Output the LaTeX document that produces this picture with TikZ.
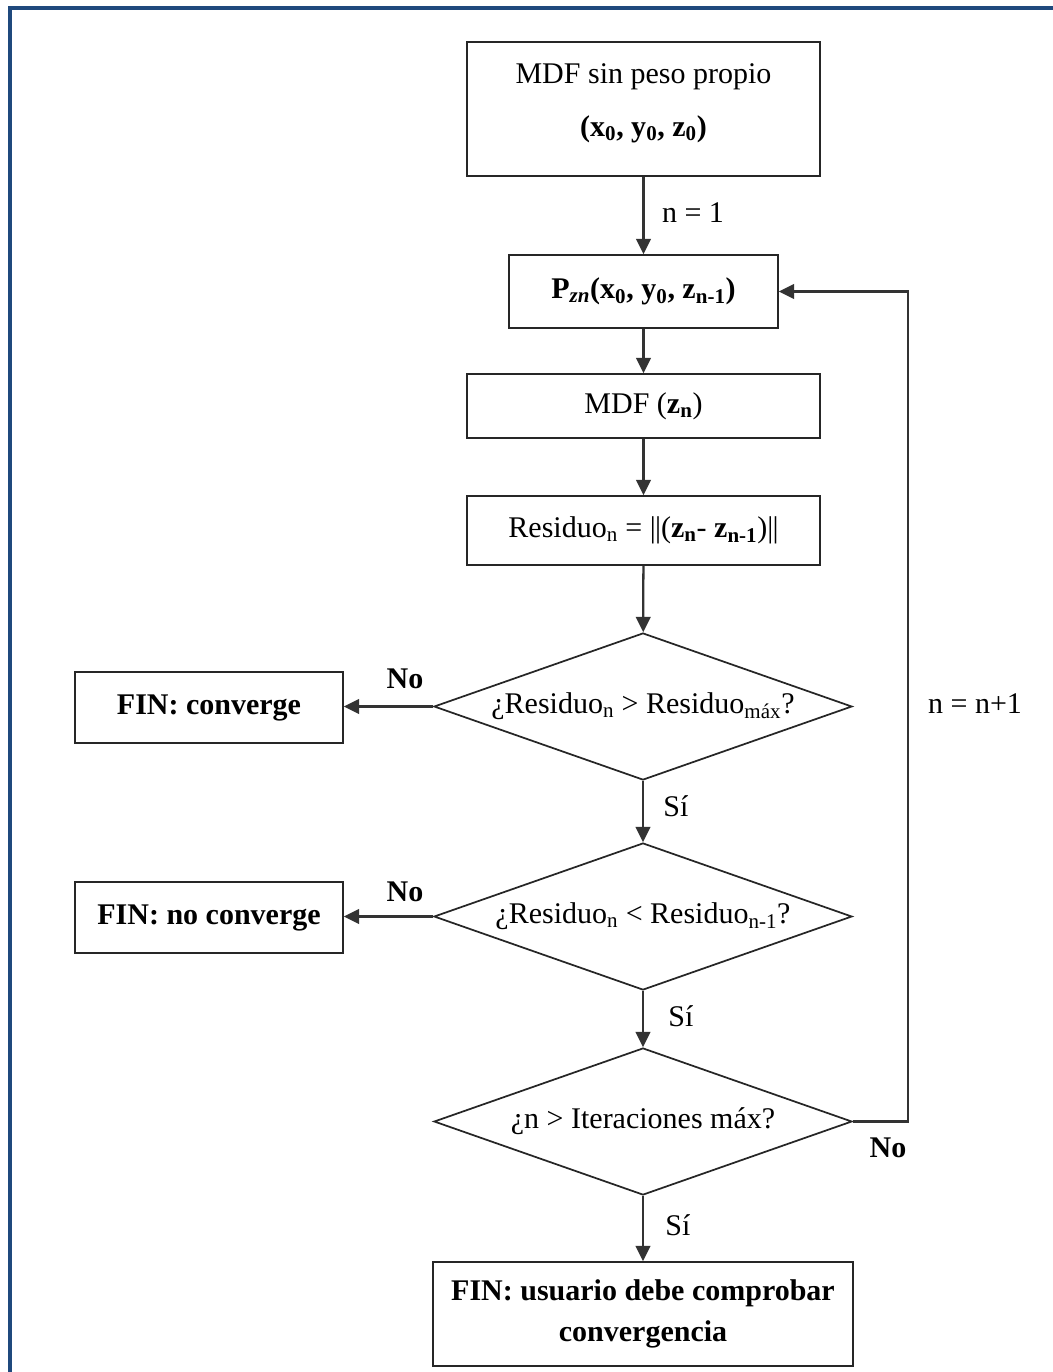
\documentclass[tikz,border=0pt]{standalone}
\usepackage{fontspec}
\setmainfont{Liberation Serif}
\usetikzlibrary{shapes.geometric,arrows.meta}
\definecolor{framecol}{RGB}{31,73,125}
\newcommand\dbar{|\kern-0.6pt|}
\begin{document}
\begin{tikzpicture}[x=0.75pt,y=-0.75pt,
  every node/.style={font=\fontsize{22.5}{27}\selectfont},
  box/.style={draw=black!85, line width=1.3pt, inner sep=0pt, align=center},
  decision/.style={draw=black!85, line width=1.3pt, diamond, aspect=2.84,
    inner sep=0pt, minimum width=313.5pt, minimum height=110.25pt},
  flow/.style={draw=black!80, line width=1.7pt, -{Triangle[length=11.5pt,width=11pt]}},
  lbl/.style={inner sep=0pt}]
\useasboundingbox (0,0) rectangle (1053,1372);
% outer frame
\draw[framecol, line width=2.4pt] (10,1372) -- (10,8) -- (1053,8);

% process boxes
\node[box, minimum width=264.75pt, minimum height=100.5pt] (start) at (643.5,109) {};
\node[inner sep=0pt, align=center] (starttext) at (643.5,103)
  {MDF sin peso propio\\[13pt]\textbf{(x\textsubscript{0}, y\textsubscript{0}, z\textsubscript{0})}};
\node[box, minimum width=201.75pt, minimum height=54.75pt] (pz) at (643.5,291.5)
  {\textbf{P\textsubscript{\textit{zn}}(x\textsubscript{0}, y\textsubscript{0}, z\textsubscript{n-1})}};
\node[box, minimum width=264.75pt, minimum height=48pt] (mdf) at (643.5,406)
  {MDF (\textbf{z\textsubscript{n}})};
\node[box, minimum width=264.75pt, minimum height=51.75pt] (res) at (643.5,530.5)
  {Residuo\textsubscript{n} = \dbar(\textbf{z\textsubscript{n}}- \textbf{z\textsubscript{n-1}})\dbar};

% decisions
\node[decision] (d1) at (643,706.5) {¿Residuo\textsubscript{n} > Residuo\textsubscript{máx}?};
\node[decision] (d2) at (643,916.5) {¿Residuo\textsubscript{n} < Residuo\textsubscript{n-1}?};
\node[decision] (d3) at (643,1121.5) {¿n > Iteraciones máx?};

% end states
\node[box, minimum width=201pt, minimum height=53.25pt] (conv) at (209,707.5) {\textbf{FIN: converge}};
\node[box, minimum width=201pt, minimum height=53.25pt] (noconv) at (209,917.5) {\textbf{FIN: no converge}};
\node[box, minimum width=315pt, minimum height=78pt] (final) at (643,1314)
  {\textbf{FIN: usuario debe comprobar}\\[4pt]\textbf{convergencia}};

% connectors
\draw[flow] (start) -- (pz);
\draw[flow] (pz) -- (mdf);
\draw[flow] (mdf) -- (res);
\draw[flow] (res) -- (d1);
\draw[flow] (d1.west) -- (d1.west -| conv.east);
\draw[flow] (d1) -- (d2);
\draw[flow] (d2.west) -- (d2.west -| noconv.east);
\draw[flow] (d2) -- (d3);
\draw[flow] (d3) -- (final);
\coordinate (loop) at (908,700);
\draw[flow] (d3.east) -- (d3.east -| loop) -- (loop |- pz.east) -- (pz.east);

% connector labels
\node[lbl] (n1) at (693,213) {n = 1};
\node[lbl] (no1) at (405,679) {\textbf{No}};
\node[lbl] (si1) at (676,806) {Sí};
\node[lbl] (no2) at (405,892) {\textbf{No}};
\node[lbl] (si2) at (681,1016) {Sí};
\node[lbl] (inc) at (975,704) {n = n+1};
\node[lbl] (no3) at (888,1148) {\textbf{No}};
\node[lbl] (si3) at (678,1225) {Sí};
\end{tikzpicture}
\end{document}
